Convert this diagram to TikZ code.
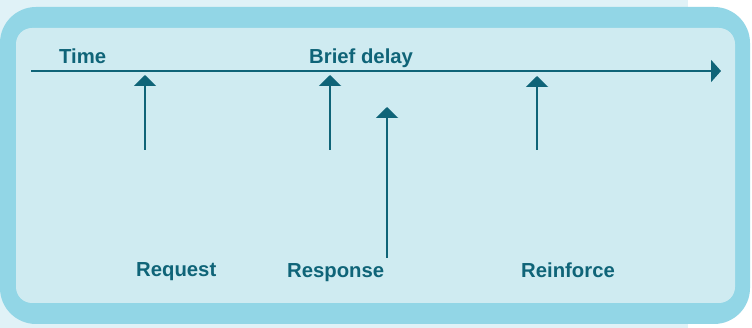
\documentclass[tikz,border=0pt]{standalone}
\usepackage{fontspec}
\setmainfont{Liberation Sans}
\usetikzlibrary{arrows.meta}
\definecolor{ink}{HTML}{0F6478}
\definecolor{frameblue}{HTML}{92D6E6}
\definecolor{panel}{HTML}{CFEBF1}
\definecolor{paper}{HTML}{E0F2F7}
\begin{document}
\begin{tikzpicture}[x=1pt,y=-1pt,
  lbl/.style={text=ink,font=\bfseries\fontsize{20.3}{24}\selectfont,inner sep=0pt,anchor=base west},
  conn/.style={draw=ink,line width=2.2pt,-{Triangle[width=22pt,length=11pt]}},
  timeline/.style={draw=ink,line width=2.2pt,-{Triangle[width=22pt,length=10pt]}}]
\useasboundingbox (0,0) rectangle (752,328);
% page tint and rounded frame
\fill[white] (0,0) rectangle (752,328);
\fill[paper] (0,0) rectangle (688,328);
\fill[frameblue,rounded corners=36pt] (0,7) rectangle (750,324);
\fill[panel,rounded corners=16pt] (16,28) rectangle (735,303);
% time axis
\coordinate (t0) at (31,71);
\coordinate (t1) at (721,71);
\draw[timeline] (t0) -- (t1);
% event markers
\coordinate (reqB) at (145,150); \coordinate (reqT) at (145,75);
\coordinate (delB) at (330,150); \coordinate (delT) at (330,75);
\coordinate (resB) at (387,258); \coordinate (resT) at (387,107);
\coordinate (reiB) at (537,150); \coordinate (reiT) at (537,76);
\draw[conn] (reqB) -- (reqT);
\draw[conn] (delB) -- (delT);
\draw[conn] (resB) -- (resT);
\draw[conn] (reiB) -- (reiT);
% labels
\node[lbl] (time) at (59,64) {Time};
\node[lbl] (delay) at (309,64) {Brief delay};
\node[lbl] (request) at (136,277) {Request};
\node[lbl] (response) at (287,278) {Response};
\node[lbl] (reinforce) at (521,278) {Reinforce};
\end{tikzpicture}
\end{document}
